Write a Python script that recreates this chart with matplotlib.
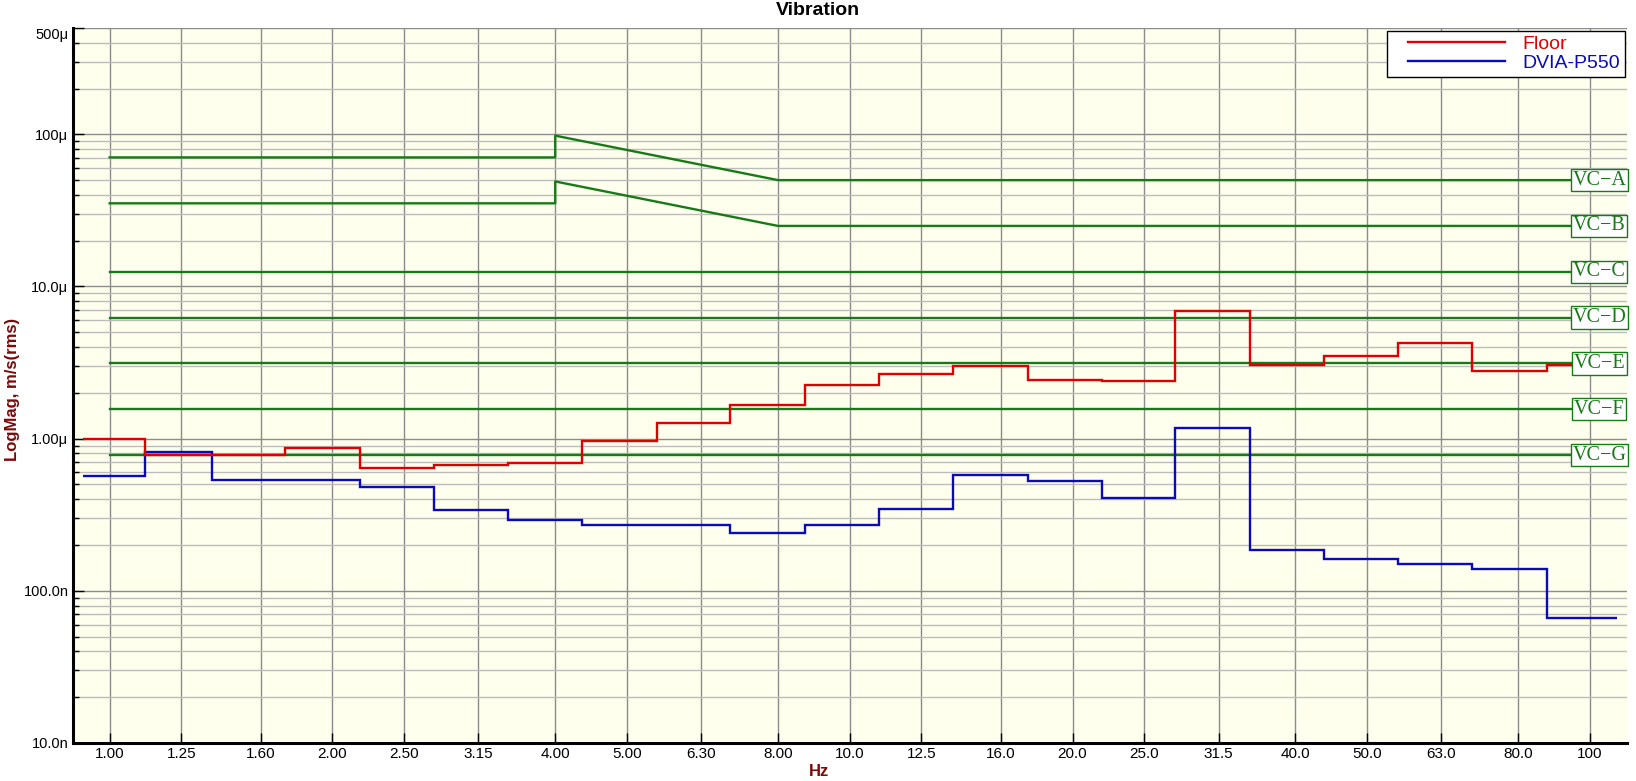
import matplotlib
matplotlib.use("Agg")
import matplotlib.pyplot as plt
from matplotlib.lines import Line2D
from matplotlib.legend_handler import HandlerLine2D
from matplotlib.ticker import FixedLocator, NullLocator, LogLocator, NullFormatter

# 1/3 octave bands (Hz), nominal centres and the drawn band edges
band_labels = ['1.00', '1.25', '1.60', '2.00', '2.50', '3.15', '4.00', '5.00', '6.30', '8.00',
               '10.0', '12.5', '16.0', '20.0', '25.0', '31.5', '40.0', '50.0', '63.0', '80.0', '100']
band_hz = [1.0, 1.25, 1.6, 2.0, 2.5, 3.15, 4.0, 5.0, 6.3, 8.0,
           10.0, 12.5, 16.0, 20.0, 25.0, 31.5, 40.0, 50.0, 63.0, 80.0, 100.0]
band_edges = [0.92, 1.116, 1.374, 1.726, 2.178, 2.743, 3.455, 4.345, 5.482, 6.90, 8.69,
              10.94, 13.80, 17.4, 21.9, 27.55, 34.75, 43.7, 55.1, 69.4, 87.6, 108.9]

# measured velocity, um/s rms
floor_um = [1.00, 0.778, 0.78, 0.869, 0.64, 0.668, 0.692, 0.966, 1.27, 1.66, 2.24,
            2.65, 3.00, 2.43, 2.39, 6.87, 3.03, 3.47, 4.25, 2.78, 3.07]
dvia_um = [0.566, 0.818, 0.533, 0.533, 0.48, 0.34, 0.292, 0.271, 0.271, 0.240, 0.271,
           0.345, 0.575, 0.525, 0.408, 1.17, 0.185, 0.161, 0.151, 0.139, 0.0665]

# VC criteria, um/s rms
vc_names = ['VC\u2212A', 'VC\u2212B', 'VC\u2212C', 'VC\u2212D', 'VC\u2212E', 'VC\u2212F', 'VC\u2212G']
vc_freqs = [[1, 4, 4, 8, 100], [1, 4, 4, 8, 100], [1, 100], [1, 100], [1, 100], [1, 100], [1, 100]]
vc_um = [[70.5, 70.5, 98, 50, 50],
         [35.2, 35.2, 49, 25, 25],
         [12.5, 12.5], [6.25, 6.25], [3.12, 3.12], [1.56, 1.56], [0.78, 0.78]]

ytick_vals = [1e-8, 1e-7, 1e-6, 1e-5, 1e-4, 5e-4]
ytick_labels = ['10.0n', '100.0n', '1.00\u03bc', '10.0\u03bc', '100\u03bc', '500\u03bc']

green = '#167a16'
red = '#e00000'
blue = '#0a0ab8'
dark_red = '#7a0a0a'
sans = ['Liberation Sans', 'DejaVu Sans']

fig = plt.figure(figsize=(16.36, 7.81), dpi=100)
ax = fig.add_axes([0.0444, 0.0487, 0.950, 0.9155])
ax.set_facecolor('#ffffee')
ax.set_xscale('log')
ax.set_yscale('log')
ax.set_xlim(10 ** -0.05, 10 ** 2.05)
ax.set_ylim(1e-8, 5e-4)

for f, v in zip(vc_freqs, vc_um):
    ax.plot(f, [x * 1e-6 for x in v], color=green, lw=1.7, zorder=2)

ax.stairs([v * 1e-6 for v in dvia_um], band_edges, baseline=None, color=blue, lw=1.7, zorder=3)
ax.stairs([v * 1e-6 for v in floor_um], band_edges, baseline=None, color=red, lw=1.7, zorder=3)

for name, v in zip(vc_names, vc_um):
    ax.text(103, v[-1] * 1e-6, name, ha='center', va='center', color=green,
            fontsize=14.5, family=['Liberation Serif', 'DejaVu Serif'], zorder=6,
            bbox=dict(boxstyle='square,pad=0.08', fc='white', ec=green, lw=1.0))

# axes, ticks and grid
ax.xaxis.set_major_locator(FixedLocator(band_hz))
ax.xaxis.set_minor_locator(NullLocator())
ax.set_xticklabels(band_labels, family=['Liberation Sans Narrow'] + sans, fontsize=11)
ax.yaxis.set_major_locator(FixedLocator(ytick_vals))
ax.yaxis.set_minor_locator(LogLocator(base=10, subs=range(2, 10)))
ax.yaxis.set_minor_formatter(NullFormatter())
ax.set_yticklabels(ytick_labels, family=sans, fontsize=10.5)
ax.get_yticklabels()[-1].set_va('top')

ax.tick_params(which='both', direction='in', color='black')
ax.tick_params(axis='x', which='major', length=7, width=1, pad=3)
ax.tick_params(axis='y', which='major', length=8, width=1, pad=3)
ax.tick_params(axis='y', which='minor', length=4, width=1)

ax.set_axisbelow(True)
ax.grid(which='major', axis='x', color='#8c8c8c', lw=1.0)
ax.grid(which='major', axis='y', color='#8c8c8c', lw=1.0)
ax.grid(which='minor', axis='y', color='#bcbcbc', lw=1.0)

for s in ['top', 'right']:
    ax.spines[s].set_visible(False)
for s in ['left', 'bottom']:
    ax.spines[s].set_linewidth(2.2)
    ax.spines[s].set_color('black')

ax.set_xlabel('Hz', color=dark_red, fontweight='bold', fontsize=12, family=sans)
ax.xaxis.set_label_coords(0.480, -0.030)
ax.set_ylabel('LogMag, m/s(rms)', color=dark_red, fontweight='bold', fontsize=12, family=sans)
ax.yaxis.set_label_coords(-0.034, 0.494)

fig.text(0.5, 1 - 10.5 / 781, 'Vibration', ha='center', va='center', fontweight='bold',
         fontsize=14, family=sans)

leg_handles = [Line2D([], [], color=red, lw=1.7), Line2D([], [], color=blue, lw=1.7)]
leg = ax.legend(leg_handles, ['Floor', 'DVIA-P550'], loc='upper right', bbox_to_anchor=(0.999, 0.996),
                borderaxespad=0, handlelength=6.6, handletextpad=0.12, numpoints=2,
                handler_map={Line2D: HandlerLine2D(marker_pad=0.82)},
                borderpad=0.25, labelspacing=0.05, fancybox=False, framealpha=1,
                edgecolor='black', prop={'family': sans, 'size': 14})
leg.get_frame().set_linewidth(1.0)
leg.set_zorder(10)
for t, c in zip(leg.get_texts(), [red, blue]):
    t.set_color(c)

fig.savefig('out.png', dpi=100)
